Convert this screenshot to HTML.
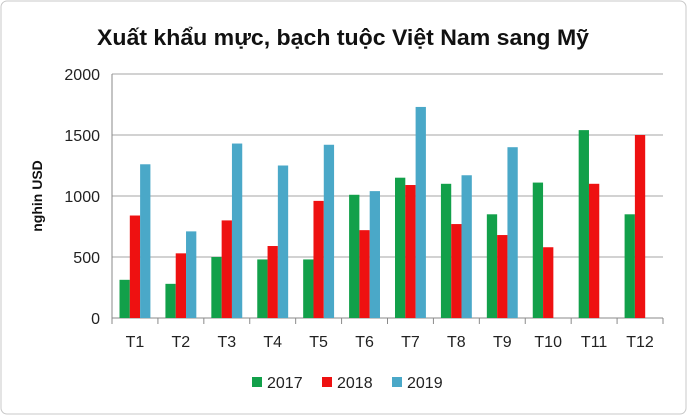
<!DOCTYPE html>
<html><head><meta charset="utf-8"><style>
body{margin:0;background:#fff;}
svg{display:block;font-family:"Liberation Sans",Calibri,sans-serif;}
</style></head><body>
<svg id="c" width="687" height="415">
<rect x="1" y="1" width="685" height="413" rx="6" fill="#fff" stroke="#c8c8c8"/>
<text x="343" y="45" text-anchor="middle" font-size="22" font-weight="bold" fill="#111" textLength="492" lengthAdjust="spacingAndGlyphs">Xuất khẩu mực, bạch tuộc Việt Nam sang Mỹ</text>
<text transform="translate(42,196) rotate(-90)" text-anchor="middle" font-size="14" font-weight="bold" fill="#111">nghin USD</text>
<g id="grid"></g><g id="bars"></g><g id="axis"></g><g id="legend"></g>
</svg>
<script>
const categories=["T1","T2","T3","T4","T5","T6","T7","T8","T9","T10","T11","T12"];
const s2017=[313,280,500,480,480,1010,1150,1100,850,1110,1540,850];
const s2018=[840,530,800,590,960,720,1090,770,680,580,1100,1500];
const s2019=[1260,710,1430,1250,1420,1040,1730,1170,1400,null,null,null];
const yTicks=[0,500,1000,1500,2000];
const seriesNames=["2017","2018","2019"];
const colors=["#12a04a","#ee1111","#4aa8c8"];
const NS="http://www.w3.org/2000/svg";
const x0=112,x1=663,y0=318,yTop=74,yMax=2000;
const cw=(x1-x0)/categories.length,bw=10.3;
const y=v=>y0-(v/yMax)*(y0-yTop);
function mk(t,a,p){const e=document.createElementNS(NS,t);for(const k in a)e.setAttribute(k,a[k]);p.appendChild(e);return e;}
const g=document.getElementById('grid'),b=document.getElementById('bars'),ax=document.getElementById('axis'),lg=document.getElementById('legend');
yTicks.forEach(t=>{
 const l=mk('line',{x1:x0,x2:x1,y1:y(t),y2:y(t),stroke:t?'#a6a6a6':'#8a8a8a','stroke-width':1},g);
 
 
 const tx=mk('text',{x:x0-12,y:y(t)+6,'text-anchor':'end','font-size':16,fill:'#222'},ax);
 tx.textContent=t;
 
 
});
const yl=mk('line',{x1:x0,x2:x0,y1:yTop,y2:y0,stroke:'#8a8a8a'},ax);


for(let i=0;i<=categories.length;i++){
 const t=mk('line',{x1:x0+i*cw,x2:x0+i*cw,y1:y0,y2:y0+6,stroke:'#8a8a8a'},ax);
 
 
}
const series=[s2017,s2018,s2019];
categories.forEach((c,i)=>{
 const cx=x0+(i+0.5)*cw;
 series.forEach((s,j)=>{
  if(s[i]==null)return;
  const r=mk('rect',{x:cx-1.5*bw+j*bw,y:y(s[i]),width:bw,height:y0-y(s[i]),fill:colors[j]},b);
  
  
 });
 const t=mk('text',{x:cx,y:y0+29,'text-anchor':'middle','font-size':16,fill:'#222'},ax);
 t.textContent=c;
 
 
});
const lx=[252,322,392];
seriesNames.forEach((n,j)=>{
 const r=mk('rect',{x:lx[j],y:377,width:10,height:10,fill:colors[j]},lg);
 
 
 const t=mk('text',{x:lx[j]+15,y:388,'font-size':16,fill:'#222'},lg);
 t.textContent=n;
 
 
});
</script>
</body></html>
